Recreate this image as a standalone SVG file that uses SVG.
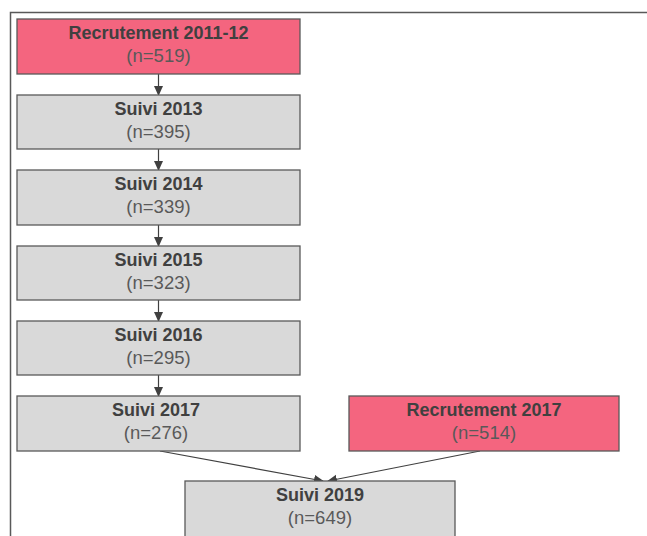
<svg xmlns="http://www.w3.org/2000/svg" width="647" height="536" viewBox="0 0 647 536">
<style>
.g{fill:#d9d9d9;stroke:#595959;stroke-width:1.3}
.p{fill:#f4657f;stroke:#595959;stroke-width:1.3}
.t{font-family:"Liberation Sans",Arial,sans-serif;font-size:18px;font-weight:bold;fill:#404040;text-anchor:middle}
.n{font-family:"Liberation Sans",Arial,sans-serif;font-size:18.5px;fill:#595959;text-anchor:middle}
.c{stroke:#404040;stroke-width:1.2;fill:none;marker-end:url(#a)}
</style>
<defs>
<marker id="a" markerWidth="10" markerHeight="10" refX="9" refY="5" orient="auto" markerUnits="userSpaceOnUse">
<path d="M0,0.5 L10,5 L0,9.5 Z" fill="#404040"/>
</marker>
</defs>
<rect width="647" height="536" fill="#fff"/>
<path d="M10.5,545 V12.5 H660" fill="none" stroke="#595959" stroke-width="1.5"/>
<g id="connectors">
<line class="c" x1="158.5" y1="74" x2="158.5" y2="95"/>
<line class="c" x1="158.5" y1="149" x2="158.5" y2="170"/>
<line class="c" x1="158.5" y1="225" x2="158.5" y2="246"/>
<line class="c" x1="158.5" y1="300" x2="158.5" y2="321"/>
<line class="c" x1="158.5" y1="375" x2="158.5" y2="396"/>
<line class="c" x1="160" y1="451" x2="323" y2="481"/>
<line class="c" x1="480" y1="451" x2="328" y2="481"/>
</g>
<g id="r2011">
<rect class="p" x="17" y="19" width="283" height="55"/>
<text class="t" x="158.5" y="39">Recrutement 2011-12</text>
<text class="n" x="158.5" y="62">(n=519)</text>
</g>
<g id="s2013">
<rect class="g" x="17" y="95" width="283" height="54"/>
<text class="t" x="158.5" y="115">Suivi 2013</text>
<text class="n" x="158.5" y="138">(n=395)</text>
</g>
<g id="s2014">
<rect class="g" x="17" y="170" width="283" height="55"/>
<text class="t" x="158.5" y="190">Suivi 2014</text>
<text class="n" x="158.5" y="213">(n=339)</text>
</g>
<g id="s2015">
<rect class="g" x="17" y="246" width="283" height="54"/>
<text class="t" x="158.5" y="266">Suivi 2015</text>
<text class="n" x="158.5" y="289">(n=323)</text>
</g>
<g id="s2016">
<rect class="g" x="17" y="321" width="283" height="54"/>
<text class="t" x="158.5" y="341">Suivi 2016</text>
<text class="n" x="158.5" y="364">(n=295)</text>
</g>
<g id="s2017">
<rect class="g" x="17" y="396" width="283" height="55"/>
<text class="t" x="156" y="416">Suivi 2017</text>
<text class="n" x="156" y="439">(n=276)</text>
</g>
<g id="r2017">
<rect class="p" x="349" y="396" width="270" height="55"/>
<text class="t" x="484" y="416">Recrutement 2017</text>
<text class="n" x="484" y="439">(n=514)</text>
</g>
<g id="s2019">
<rect class="g" x="185" y="481" width="270" height="60"/>
<text class="t" x="320" y="501">Suivi 2019</text>
<text class="n" x="320" y="524">(n=649)</text>
</g>
</svg>
